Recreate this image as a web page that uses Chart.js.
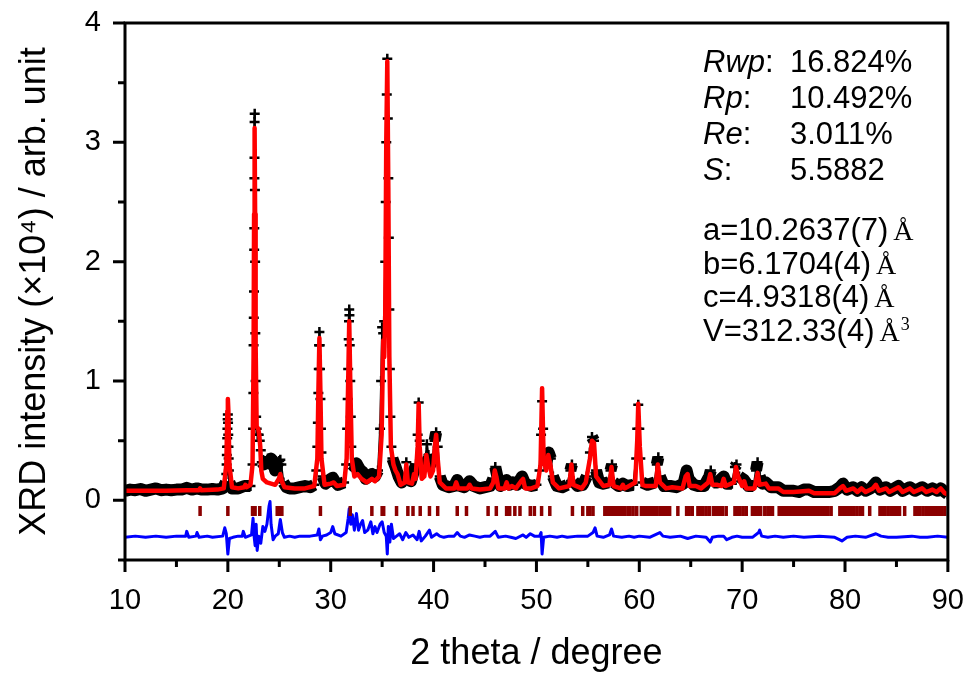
<!DOCTYPE html>
<html>
<head>
<meta charset="utf-8">
<script src="https://cdn.jsdelivr.net/npm/chart.js@4.4.1/dist/chart.umd.min.js"></script>
<style>
  html, body { margin: 0; padding: 0; background: #fff; }
  canvas { display: block; }
</style>
</head>
<body>
<canvas id="xrdChart" width="964" height="676"></canvas>
<script>
// Rietveld fit: observed (+), calculated (red), Bragg positions, difference (blue)
// intensities in units of 10^4 counts

const calcPattern = [
  [10.0, 0.08], [12.0, 0.08], [14.0, 0.08], [16.0, 0.085], [17.2, 0.085], [17.3, 0.1], [17.4, 0.085],
  [19.0, 0.09], [19.6, 0.1], [19.85, 0.3], [19.95, 0.75], [20.0, 0.85], [20.05, 0.75], [20.15, 0.3],
  [20.4, 0.11], [21.0, 0.1], [21.6, 0.11], [21.7, 0.13], [21.8, 0.11], [22.2, 0.13], [22.4, 0.3],
  [22.5, 1.2], [22.55, 2.4], [22.6, 3.12], [22.65, 2.4], [22.7, 1.3], [22.8, 0.62], [22.95, 0.6],
  [23.05, 0.55], [23.15, 0.45], [23.25, 0.25], [23.4, 0.18], [23.8, 0.15], [24.2, 0.14], [24.6, 0.13],
  [24.95, 0.18], [25.1, 0.22], [25.25, 0.16], [25.5, 0.11], [26.5, 0.1], [27.5, 0.1], [28.4, 0.12],
  [28.7, 0.35], [28.8, 0.9], [28.9, 1.36], [29.0, 0.9], [29.1, 0.35], [29.4, 0.13], [30.0, 0.14],
  [30.3, 0.15], [30.6, 0.12], [31.3, 0.13], [31.55, 0.35], [31.7, 1.0], [31.8, 1.5], [31.9, 1.0],
  [32.05, 0.35], [32.3, 0.2], [32.6, 0.22], [33.0, 0.18], [33.5, 0.15], [34.0, 0.18], [34.3, 0.16],
  [34.7, 0.2], [34.95, 0.55], [35.1, 1.34], [35.2, 1.2], [35.3, 1.55], [35.4, 3.0], [35.5, 3.68],
  [35.6, 2.62], [35.7, 1.2], [35.85, 0.45], [36.1, 0.3], [36.3, 0.25], [36.5, 0.22], [36.8, 0.13],
  [37.2, 0.15], [37.35, 0.3], [37.5, 0.15], [37.9, 0.14], [38.1, 0.22], [38.25, 0.18], [38.45, 0.45],
  [38.55, 0.81], [38.65, 0.45], [38.85, 0.18], [39.1, 0.2], [39.3, 0.38], [39.45, 0.3], [39.7, 0.2],
  [39.95, 0.25], [40.15, 0.48], [40.25, 0.55], [40.4, 0.35], [40.6, 0.15], [41.2, 0.1], [42.0, 0.1],
  [42.2, 0.15], [42.4, 0.1], [43.3, 0.1], [43.5, 0.13], [43.7, 0.1], [44.5, 0.09], [45.5, 0.1],
  [45.8, 0.15], [45.95, 0.25], [46.1, 0.2], [46.3, 0.1], [46.9, 0.1], [47.1, 0.15], [47.3, 0.1],
  [47.6, 0.12], [48.0, 0.1], [48.5, 0.16], [48.7, 0.18], [48.9, 0.1], [49.5, 0.1], [50.1, 0.12],
  [50.4, 0.3], [50.55, 0.94], [50.7, 0.35], [50.95, 0.25], [51.15, 0.38], [51.35, 0.3], [51.6, 0.15],
  [52.2, 0.1], [53.2, 0.12], [53.4, 0.3], [53.6, 0.13], [54.4, 0.1], [54.8, 0.15], [55.2, 0.35],
  [55.4, 0.5], [55.6, 0.48], [55.8, 0.2], [56.5, 0.12], [57.1, 0.13], [57.3, 0.28], [57.5, 0.12],
  [58.2, 0.1], [58.4, 0.13], [58.6, 0.1], [59.6, 0.15], [59.8, 0.5], [59.9, 0.81], [60.05, 0.45],
  [60.3, 0.13], [60.6, 0.12], [61.6, 0.12], [61.8, 0.3], [62.0, 0.15], [62.6, 0.1], [63.2, 0.11],
  [64.2, 0.1], [64.5, 0.2], [64.7, 0.22], [64.9, 0.12], [65.5, 0.12], [66.0, 0.1], [66.7, 0.15],
  [66.9, 0.22], [67.1, 0.13], [67.6, 0.13], [68.0, 0.12], [68.2, 0.18], [68.4, 0.12], [69.2, 0.15],
  [69.4, 0.28], [69.6, 0.2], [70.0, 0.12], [70.2, 0.16], [70.4, 0.1], [71.2, 0.1], [71.5, 0.23],
  [71.7, 0.13], [72.3, 0.14], [72.6, 0.1], [73.5, 0.1], [74.0, 0.07], [75.0, 0.07], [76.5, 0.08],
  [77.0, 0.06], [79.0, 0.06], [79.5, 0.1], [79.8, 0.12], [80.1, 0.08], [80.8, 0.1], [81.2, 0.07],
  [81.6, 0.1], [82.0, 0.07], [82.7, 0.1], [83.0, 0.13], [83.3, 0.08], [84.0, 0.1], [84.3, 0.07],
  [85.2, 0.11], [85.6, 0.07], [86.3, 0.1], [86.7, 0.07], [87.5, 0.1], [87.9, 0.07], [88.5, 0.09],
  [88.9, 0.07], [89.3, 0.1], [89.7, 0.06], [90.0, 0.05]
];

const obsPattern = [
  [10.0, 0.08], [10.5, 0.09], [11.0, 0.085], [11.5, 0.095], [12.0, 0.08], [12.5, 0.09], [13.0, 0.1],
  [13.5, 0.085], [14.0, 0.09], [14.5, 0.085], [15.0, 0.09], [15.5, 0.09], [16.0, 0.105], [16.5, 0.09],
  [17.0, 0.1], [17.5, 0.09], [18.0, 0.09], [18.5, 0.095], [19.0, 0.09], [19.5, 0.1],
  [19.8, 0.15], [19.85, 0.22], [19.88, 0.3], [19.9, 0.38], [19.92, 0.45], [19.94, 0.52], [19.96, 0.6],
  [19.98, 0.68], [20.0, 0.72], [20.02, 0.65], [20.04, 0.55], [20.06, 0.45], [20.08, 0.35], [20.1, 0.25],
  [20.15, 0.15], [20.4, 0.1], [21.0, 0.1], [21.6, 0.12], [21.8, 0.12], [22.2, 0.12],
  [22.4, 0.3], [22.45, 0.6], [22.48, 0.9], [22.5, 1.3], [22.52, 1.53], [22.54, 1.75], [22.56, 2.1],
  [22.57, 2.28], [22.58, 2.7], [22.59, 2.87], [22.6, 3.17], [22.61, 3.24], [22.63, 2.6], [22.65, 2.0],
  [22.67, 1.4], [22.7, 1.0], [22.75, 0.7], [22.8, 0.6], [22.9, 0.55], [23.0, 0.55], [23.1, 0.5],
  [23.2, 0.42], [23.3, 0.32], [23.5, 0.3], [23.7, 0.33], [23.9, 0.35], [24.0, 0.3], [24.2, 0.35],
  [24.4, 0.33], [24.6, 0.25], [24.8, 0.3], [25.0, 0.33], [25.1, 0.34], [25.2, 0.3], [25.4, 0.15],
  [25.7, 0.11], [26.0, 0.1], [26.5, 0.1], [27.0, 0.11], [27.5, 0.12], [28.0, 0.11], [28.4, 0.13],
  [28.6, 0.25], [28.7, 0.45], [28.75, 0.65], [28.8, 0.9], [28.84, 1.1], [28.87, 1.3], [28.9, 1.41],
  [28.93, 1.3], [28.96, 1.1], [29.0, 0.85], [29.05, 0.6], [29.1, 0.4], [29.2, 0.2], [29.5, 0.14],
  [29.8, 0.16], [30.0, 0.18], [30.2, 0.19], [30.4, 0.16], [30.7, 0.13], [31.0, 0.14], [31.3, 0.15],
  [31.5, 0.3], [31.6, 0.6], [31.65, 0.85], [31.7, 1.1], [31.75, 1.35], [31.78, 1.5], [31.8, 1.6],
  [31.82, 1.55], [31.85, 1.3], [31.9, 1.0], [31.95, 0.7], [32.0, 0.45], [32.1, 0.3], [32.3, 0.28],
  [32.5, 0.31], [32.7, 0.28], [32.9, 0.25], [33.1, 0.24], [33.4, 0.18], [33.7, 0.2], [34.0, 0.22],
  [34.3, 0.2], [34.6, 0.25], [34.8, 0.6], [34.9, 1.0], [35.0, 1.45], [35.1, 1.4], [35.2, 1.5],
  [35.3, 2.0], [35.35, 2.5], [35.4, 3.0], [35.45, 3.4], [35.5, 3.7], [35.55, 3.2], [35.6, 2.7],
  [35.65, 2.2], [35.7, 1.6], [35.75, 1.1], [35.8, 0.7], [35.9, 0.45], [36.0, 0.35], [36.3, 0.28],
  [36.6, 0.2], [36.9, 0.15], [37.2, 0.2], [37.35, 0.32], [37.5, 0.2], [37.8, 0.16], [38.1, 0.25],
  [38.3, 0.3], [38.45, 0.55], [38.55, 0.82], [38.65, 0.5], [38.8, 0.3], [39.0, 0.28], [39.2, 0.35],
  [39.35, 0.47], [39.5, 0.38], [39.7, 0.3], [39.9, 0.35], [40.1, 0.5], [40.25, 0.57], [40.4, 0.45],
  [40.6, 0.2], [40.9, 0.13], [41.5, 0.11], [42.0, 0.12], [42.3, 0.17], [42.6, 0.12], [43.0, 0.11],
  [43.5, 0.16], [43.9, 0.12], [44.5, 0.1], [45.0, 0.11], [45.5, 0.12], [45.8, 0.18], [46.0, 0.28],
  [46.2, 0.2], [46.5, 0.12], [47.1, 0.17], [47.4, 0.13], [47.7, 0.15], [48.1, 0.13], [48.6, 0.2],
  [48.9, 0.14], [49.5, 0.12], [50.0, 0.13], [50.3, 0.25], [50.45, 0.55], [50.55, 0.83], [50.65, 0.6],
  [50.8, 0.3], [51.0, 0.33], [51.2, 0.4], [51.4, 0.35], [51.6, 0.2], [52.0, 0.12], [52.5, 0.11],
  [53.0, 0.13], [53.3, 0.25], [53.45, 0.3], [53.6, 0.16], [54.0, 0.12], [54.5, 0.13], [54.9, 0.2],
  [55.2, 0.4], [55.4, 0.53], [55.6, 0.5], [55.8, 0.25], [56.1, 0.15], [56.5, 0.14], [57.0, 0.15],
  [57.2, 0.25], [57.35, 0.3], [57.5, 0.15], [58.0, 0.12], [58.4, 0.14], [58.8, 0.12], [59.4, 0.13],
  [59.7, 0.35], [59.8, 0.6], [59.9, 0.8], [60.0, 0.6], [60.1, 0.35], [60.3, 0.15], [60.8, 0.13],
  [61.5, 0.15], [61.7, 0.3], [61.85, 0.36], [62.0, 0.2], [62.4, 0.12], [63.0, 0.12], [63.6, 0.11],
  [64.3, 0.14], [64.6, 0.25], [64.8, 0.18], [65.3, 0.13], [65.7, 0.12], [66.3, 0.12], [66.8, 0.2],
  [66.95, 0.25], [67.2, 0.15], [67.6, 0.15], [68.2, 0.2], [68.5, 0.14], [69.0, 0.14], [69.3, 0.28],
  [69.45, 0.3], [69.7, 0.2], [70.2, 0.17], [70.6, 0.12], [71.1, 0.12], [71.35, 0.25], [71.5, 0.32],
  [71.7, 0.2], [72.0, 0.14], [72.3, 0.15], [72.8, 0.11], [73.5, 0.11], [74.0, 0.08], [74.5, 0.08],
  [75.0, 0.08], [75.5, 0.07], [76.0, 0.09], [76.5, 0.09], [77.0, 0.07], [77.5, 0.07], [78.0, 0.07],
  [78.5, 0.07], [79.0, 0.08], [79.5, 0.11], [79.8, 0.14], [80.2, 0.09], [80.8, 0.11], [81.2, 0.08],
  [81.6, 0.11], [82.0, 0.08], [82.5, 0.1], [83.0, 0.15], [83.4, 0.09], [84.0, 0.11], [84.4, 0.08],
  [85.2, 0.12], [85.6, 0.08], [86.3, 0.11], [86.8, 0.08], [87.5, 0.11], [88.0, 0.08], [88.5, 0.1],
  [89.0, 0.08], [89.3, 0.1], [89.7, 0.07], [90.0, 0.05]
];

// difference curve (obs - calc), plotted with offset
const diffPattern = [
  [10.0, -0.31], [11.0, -0.3], [12.0, -0.31], [13.0, -0.3], [14.0, -0.31], [15.0, -0.3], [15.9, -0.3],
  [16.0, -0.26], [16.2, -0.31], [16.9, -0.3], [17.0, -0.27], [17.2, -0.31], [18.0, -0.3], [18.5, -0.31],
  [19.5, -0.3], [19.7, -0.23], [19.85, -0.28], [20.0, -0.45], [20.15, -0.32], [20.5, -0.31], [21.0, -0.3],
  [21.4, -0.3], [21.5, -0.26], [21.7, -0.31], [22.3, -0.29], [22.45, -0.15], [22.55, -0.3], [22.65, -0.38],
  [22.75, -0.2], [22.85, -0.42], [23.0, -0.3], [23.2, -0.36], [23.4, -0.22], [23.6, -0.26], [23.8, -0.2],
  [24.0, -0.05], [24.1, -0.01], [24.2, -0.2], [24.4, -0.33], [24.6, -0.3], [24.9, -0.28], [25.1, -0.16],
  [25.3, -0.27], [25.5, -0.31], [26.0, -0.3], [26.5, -0.31], [27.0, -0.3], [27.5, -0.3], [28.0, -0.3],
  [28.7, -0.29], [28.85, -0.24], [29.0, -0.33], [29.2, -0.3], [29.6, -0.29], [30.0, -0.27], [30.2, -0.22],
  [30.4, -0.28], [31.0, -0.3], [31.5, -0.27], [31.7, -0.15], [31.8, -0.07], [31.95, -0.2], [32.1, -0.12],
  [32.3, -0.25], [32.5, -0.11], [32.7, -0.25], [32.9, -0.2], [33.1, -0.17], [33.3, -0.27], [33.6, -0.25],
  [33.9, -0.18], [34.1, -0.28], [34.3, -0.22], [34.5, -0.27], [34.8, -0.2], [35.0, -0.18], [35.2, -0.27],
  [35.4, -0.3], [35.5, -0.45], [35.6, -0.22], [35.75, -0.35], [35.9, -0.2], [36.1, -0.32], [36.4, -0.3],
  [36.7, -0.28], [37.0, -0.33], [37.3, -0.27], [37.6, -0.31], [38.0, -0.29], [38.4, -0.33], [38.6, -0.26],
  [38.8, -0.34], [39.2, -0.3], [39.6, -0.25], [39.8, -0.31], [40.3, -0.28], [40.6, -0.3], [41.0, -0.31],
  [41.5, -0.3], [42.0, -0.3], [42.3, -0.27], [42.6, -0.3], [43.0, -0.31], [43.5, -0.29], [44.0, -0.3],
  [44.5, -0.31], [45.0, -0.3], [45.5, -0.3], [46.0, -0.26], [46.3, -0.31], [47.0, -0.3], [47.5, -0.31],
  [48.0, -0.32], [48.7, -0.29], [49.0, -0.31], [49.4, -0.28], [49.8, -0.3], [50.3, -0.3], [50.45, -0.27],
  [50.55, -0.45], [50.7, -0.31], [51.3, -0.3], [52.0, -0.31], [52.5, -0.3], [53.0, -0.31], [54.0, -0.3],
  [55.0, -0.3], [55.5, -0.27], [55.7, -0.23], [55.9, -0.3], [56.5, -0.31], [57.1, -0.29], [57.3, -0.24],
  [57.5, -0.3], [58.3, -0.31], [59.0, -0.3], [59.5, -0.31], [60.0, -0.3], [61.0, -0.31], [62.0, -0.27],
  [62.3, -0.3], [63.0, -0.31], [64.0, -0.3], [64.7, -0.32], [65.5, -0.3], [66.5, -0.31], [66.9, -0.35],
  [67.1, -0.31], [67.7, -0.3], [68.2, -0.3], [68.5, -0.33], [69.0, -0.31], [69.5, -0.3], [70.0, -0.31],
  [71.0, -0.31], [71.6, -0.27], [71.7, -0.25], [71.9, -0.3], [72.5, -0.31], [73.2, -0.3], [74.0, -0.31],
  [75.0, -0.3], [76.0, -0.31], [77.5, -0.3], [79.0, -0.31], [79.7, -0.34], [80.2, -0.31], [81.0, -0.3],
  [82.0, -0.31], [83.0, -0.28], [83.5, -0.3], [84.2, -0.31], [85.0, -0.31], [86.5, -0.3], [87.3, -0.31],
  [88.0, -0.31], [89.0, -0.3], [90.0, -0.31]
];

const braggPositions = [
  17.3, 20.0, 22.4, 22.65, 23.1, 24.8, 25.0, 25.25, 29.0, 31.9, 34.0, 35.0, 35.15, 36.4, 37.5, 38.0,
  38.7, 39.6, 40.4, 42.3, 43.2, 45.3, 46.1, 47.1, 47.4, 47.9, 48.4, 49.4, 49.8, 50.5, 51.3, 53.5,
  54.5, 55.0, 55.2, 55.5, 56.65, 56.9, 57.1, 57.35, 57.6, 57.8, 58.1, 58.35, 58.6, 58.9, 59.1, 59.4,
  59.75, 60.2, 60.45, 60.7, 60.9, 61.2, 61.45, 61.7, 62.0, 62.25, 62.5, 62.75, 62.95, 63.75, 64.6,
  64.85, 65.15, 65.7, 65.95, 66.2, 66.5, 66.8, 67.2, 67.5, 67.8, 68.1, 68.45, 69.3, 69.55, 69.8,
  70.1, 70.4, 71.0, 71.25, 71.5, 71.8, 72.2, 72.5, 72.75, 72.95, 73.6, 73.85, 74.1, 74.35, 74.6,
  74.85, 75.1, 75.35, 75.6, 75.85, 76.1, 76.35, 76.6, 76.85, 77.1, 77.35, 77.6, 77.85, 78.1, 78.35,
  78.65, 79.5, 79.75, 80.0, 80.25, 80.55, 80.85, 81.15, 81.45, 81.7, 82.4, 83.4, 83.65, 83.9, 84.2,
  84.5, 84.8, 85.05, 85.3, 85.8, 86.8, 87.05, 87.3, 87.6, 87.9, 88.2, 88.5, 88.8, 89.1, 89.4, 89.7
];
const braggLevel = -0.09;

const fitNames = ['Rwp', 'Rp', 'Re', 'S'];
const fitValues = ['16.824%', '10.492%', '3.011%', '5.5882'];
const cellParams = ['a=10.2637(7)', 'b=6.1704(4)', 'c=4.9318(4)', 'V=312.33(4)'];
const cellUnits = ['Å', 'Å', 'Å', 'Å'];
const cellPowers = ['', '', '', '3'];

const SANS = '"Liberation Sans", Arial, sans-serif';
const SERIF = '"Liberation Serif", "Times New Roman", serif';

const toXY = arr => arr.map(p => ({ x: p[0], y: p[1] }));

// invisible tick marks: they only push the labels away from the axis
const hiddenGrid = {
  display: true,
  drawOnChartArea: false,
  drawTicks: true,
  tickLength: 24,
  tickColor: 'rgba(0,0,0,0)',
  color: 'rgba(0,0,0,0)'
};

const framePlugin = {
  id: 'frame',
  afterDatasetsDraw(chart) {
    const { ctx, chartArea: a, scales: { x, y } } = chart;
    ctx.save();
    ctx.strokeStyle = '#000';
    ctx.lineWidth = 3;
    ctx.lineCap = 'square';
    ctx.strokeRect(a.left, a.top, a.right - a.left, a.bottom - a.top);
    ctx.beginPath();
    x.ticks.forEach(t => {
      const px = x.getPixelForValue(t.value);
      const len = t.value % 10 === 0 ? 12 : 7;
      ctx.moveTo(px, a.bottom);
      ctx.lineTo(px, a.bottom + len);
    });
    y.ticks.forEach(t => {
      const py = y.getPixelForValue(t.value);
      const len = Number.isInteger(t.value) ? 12 : 7;
      ctx.moveTo(a.left, py);
      ctx.lineTo(a.left - len, py);
    });
    ctx.lineCap = 'butt';
    ctx.stroke();

    // refinement results
    ctx.fillStyle = '#000';
    ctx.textBaseline = 'alphabetic';
    ctx.textAlign = 'left';
    fitNames.forEach((name, i) => {
      const by = 72 + i * 36;
      ctx.font = 'italic 31px ' + SANS;
      ctx.fillText(name, 703, by);
      const w = ctx.measureText(name).width;
      ctx.font = '31px ' + SANS;
      ctx.fillText(':', 703 + w, by);
      ctx.fillText(fitValues[i], 790, by);
    });
    cellParams.forEach((txt, i) => {
      const by = 240 + i * 33.5;
      ctx.font = '31px ' + SANS;
      ctx.fillText(txt, 703, by);
      let cx = 703 + ctx.measureText(txt).width + 5;
      ctx.font = '28px ' + SERIF;
      ctx.fillText(cellUnits[i], cx, by);
      cx += ctx.measureText(cellUnits[i]).width + 1;
      if (cellPowers[i]) {
        ctx.font = '18px ' + SERIF;
        ctx.fillText(cellPowers[i], cx, by - 11);
      }
    });
    ctx.restore();
  }
};

new Chart(document.getElementById('xrdChart'), {
  type: 'scatter',
  data: {
    datasets: [
      {
        label: 'Calculated',
        data: toXY(calcPattern),
        showLine: true,
        borderColor: '#ff0000',
        borderWidth: 4.5,
        borderJoinStyle: 'round',
        pointRadius: 0,
        order: 0
      },
      {
        label: 'Observed',
        data: toXY(obsPattern),
        showLine: true,
        borderColor: '#000',
        borderWidth: 12,
        borderJoinStyle: 'round',
        borderCapStyle: 'butt',
        segment: {
          // thick band along the background, thin along peak flanks and tops
          borderWidth: c => {
            const dx = Math.abs(c.p1.x - c.p0.x);
            const dy = Math.abs(c.p1.y - c.p0.y);
            return dx >= 1.5 && dy <= dx * 3 + 4 ? 12 : 2;
          }
        },
        pointStyle: 'cross',
        pointRadius: 5,
        pointBorderWidth: 2.5,
        pointBorderColor: '#000',
        order: 1
      },
      {
        label: 'Bragg positions',
        data: braggPositions.map(v => ({ x: v, y: braggLevel })),
        showLine: false,
        pointStyle: 'line',
        rotation: 90,
        pointRadius: 5,
        pointBorderWidth: 3.5,
        pointBorderColor: '#8b0000',
        order: 2
      },
      {
        label: 'Difference',
        data: toXY(diffPattern),
        showLine: true,
        borderColor: '#0000ff',
        borderWidth: 3,
        borderJoinStyle: 'round',
        pointRadius: 0,
        order: 3
      }
    ]
  },
  options: {
    responsive: false,
    animation: false,
    layout: { padding: { top: 23, right: 16, left: 0, bottom: 0 } },
    plugins: { legend: { display: false }, tooltip: { enabled: false } },
    scales: {
      x: {
        type: 'linear',
        min: 10,
        max: 90,
        grid: hiddenGrid,
        border: { display: false },
        ticks: {
          stepSize: 5,
          autoSkip: false,
          maxRotation: 0,
          padding: 0,
          color: '#000',
          font: { family: SANS, size: 29 },
          callback: v => (v % 10 === 0 ? v : '')
        },
        title: {
          display: true,
          text: '2 theta / degree',
          color: '#000',
          font: { family: SANS, size: 36 },
          padding: { top: 0, bottom: 0 }
        },
        afterFit: s => { s.height = 116; }
      },
      y: {
        min: -0.5,
        max: 4,
        grid: hiddenGrid,
        border: { display: false },
        ticks: {
          stepSize: 0.5,
          autoSkip: false,
          padding: 0,
          color: '#000',
          font: { family: SANS, size: 29 },
          callback: v => (Number.isInteger(v) ? v : '')
        },
        title: {
          display: true,
          text: 'XRD intensity (×10⁴) / arb. unit',
          color: '#000',
          font: { family: SANS, size: 36 },
          padding: { top: 13, bottom: 0 }
        },
        afterFit: s => { s.width = 125; }
      }
    }
  },
  plugins: [framePlugin]
});
</script>
</body>
</html>
